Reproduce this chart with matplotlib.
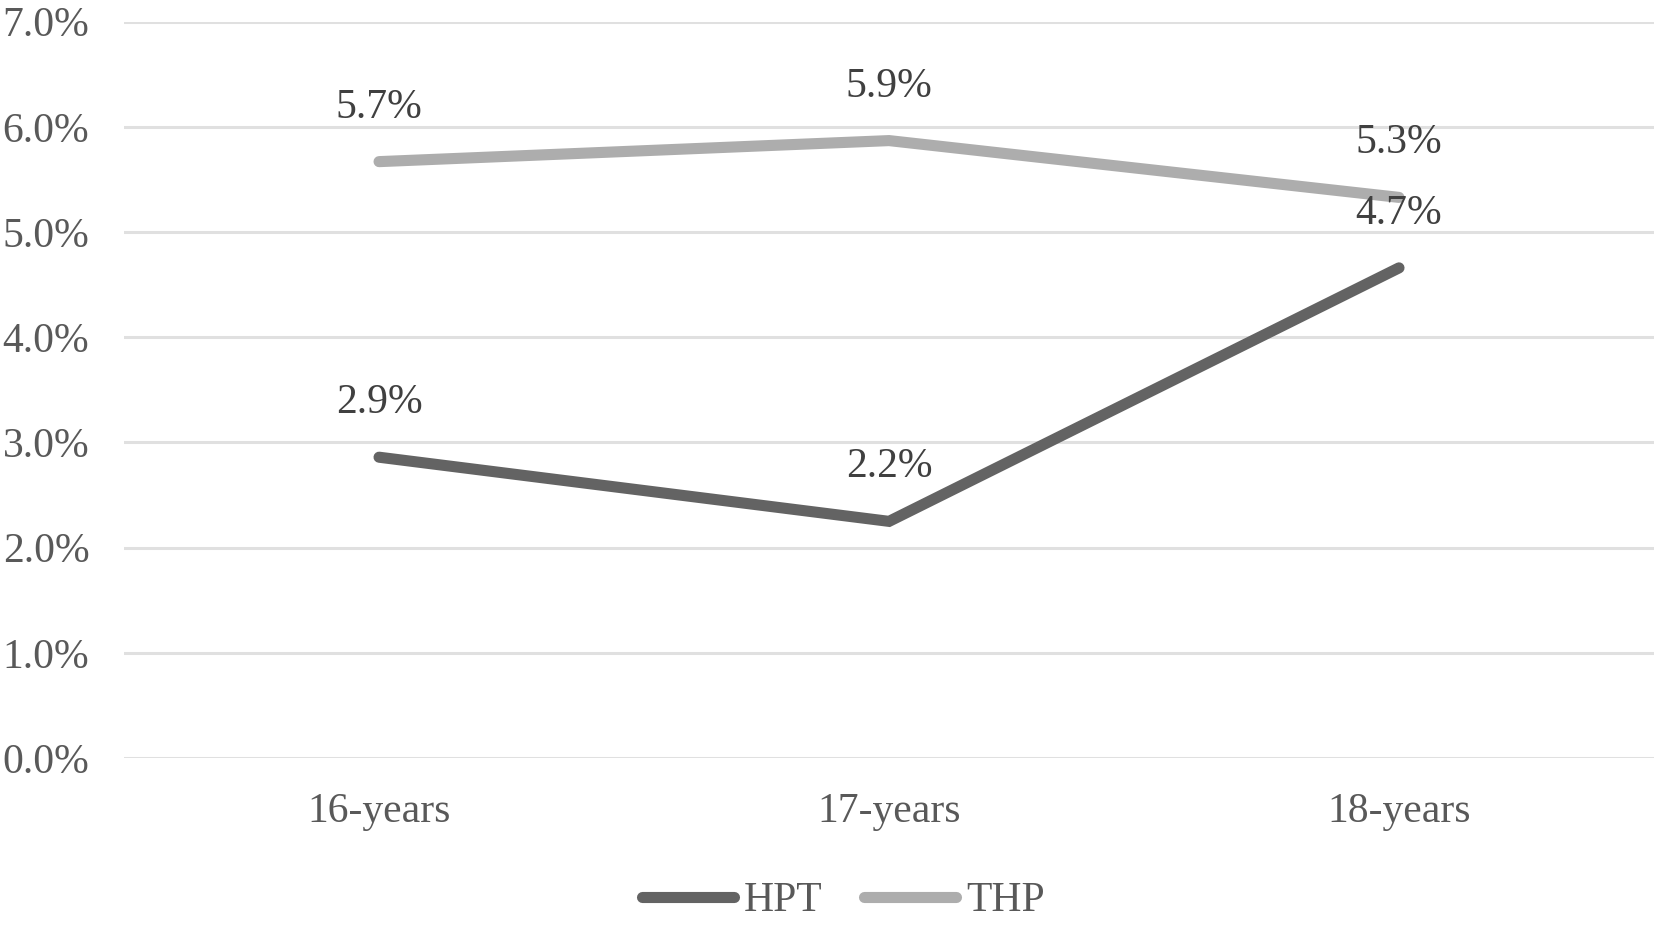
import matplotlib
matplotlib.use("Agg")
import matplotlib.pyplot as plt
from matplotlib.ticker import FuncFormatter

categories = ["16-years", "17-years", "18-years"]
hpt = [2.86, 2.25, 4.66]
thp = [5.67, 5.87, 5.33]
hpt_labels = ["2.9%", "2.2%", "4.7%"]
thp_labels = ["5.7%", "5.9%", "5.3%"]
yticks = [0, 1, 2, 3, 4, 5, 6, 7]

plt.rcParams['font.family'] = ['Liberation Serif', 'DejaVu Serif']
text_color = "#595959"
c_hpt = "#636363"
c_thp = "#adadad"

fig = plt.figure(figsize=(16.54, 9.25), dpi=100)
ax = fig.add_axes([0.075, 0.1805, 0.925, 0.796])

x = list(range(len(categories)))
ax.plot(x, hpt, color=c_hpt, lw=8, solid_capstyle='round', solid_joinstyle='miter', label="HPT", zorder=3)
ax.plot(x, thp, color=c_thp, lw=8, solid_capstyle='round', solid_joinstyle='miter', label="THP", zorder=3)

for xi, v, t in zip(x, hpt, hpt_labels):
    ax.annotate(t, (xi, v), xytext=(0, 39), textcoords='offset points',
                ha='center', va='center', fontsize=30, color="#404040")
for xi, v, t in zip(x, thp, thp_labels):
    ax.annotate(t, (xi, v), xytext=(0, 39), textcoords='offset points',
                ha='center', va='center', fontsize=30, color="#404040")

ax.set_xlim(-0.5, 2.5)
ax.set_ylim(0, 7)
ax.set_yticks(yticks)
ax.yaxis.set_major_formatter(FuncFormatter(lambda v, p: f"{v:.1f}%"))
ax.set_xticks(x)
ax.set_xticklabels(categories)
ax.grid(axis='y', color="#e0e0e0", lw=2.2, zorder=0)
ax.set_axisbelow(True)
for s in ax.spines.values():
    s.set_visible(False)
ax.tick_params(axis='both', length=0, labelsize=30, colors=text_color)
ax.tick_params(axis='y', pad=25)
ax.tick_params(axis='x', pad=25)

leg = fig.legend(loc='center', bbox_to_anchor=(0.51, 0.026), ncol=2, frameon=False,
                 fontsize=30, handlelength=2.2, handletextpad=0.25, columnspacing=1.0)
for t in leg.get_texts():
    t.set_color(text_color)
for line in leg.get_lines():
    line.set_linewidth(8)

fig.savefig("out.png", dpi=100)
